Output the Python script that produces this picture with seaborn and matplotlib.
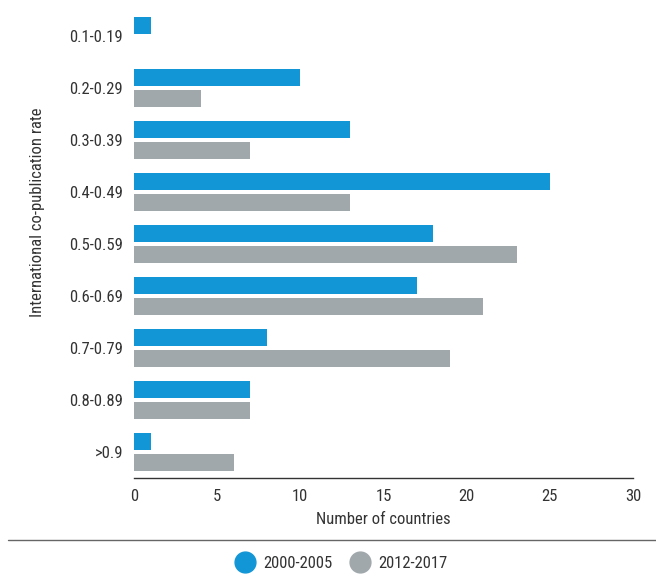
import matplotlib
matplotlib.use("Agg")
import matplotlib.pyplot as plt
from matplotlib import font_manager
from matplotlib.lines import Line2D
import pandas as pd
import seaborn as sns

rates = ["0.1-0.19", "0.2-0.29", "0.3-0.39", "0.4-0.49", "0.5-0.59",
         "0.6-0.69", "0.7-0.79", "0.8-0.89", ">0.9"]
counts_2000_2005 = [1, 10, 13, 25, 18, 17, 8, 7, 1]
counts_2012_2017 = [0, 4, 7, 13, 23, 21, 19, 7, 6]
periods = ["2000-2005", "2012-2017"]
x_ticks = [0, 5, 10, 15, 20, 25, 30]

BLUE = "#1396d6"
GREY = "#a1a8ab"
TEXT = "#333333"

df = pd.DataFrame({
    "rate": rates * 2,
    "count": counts_2000_2005 + counts_2012_2017,
    "period": [periods[0]] * len(rates) + [periods[1]] * len(rates),
})

sns.set_style("white")
installed = {f.name for f in font_manager.fontManager.ttflist}
family = [f for f in ["Liberation Sans Narrow", "Roboto Condensed", "Liberation Sans"] if f in installed]
plt.rcParams["font.family"] = family + ["DejaVu Sans"]

fig = plt.figure(figsize=(6.56, 5.79), dpi=100)
ax = fig.add_axes([134 / 656, 1 - 478 / 579, 499 / 656, 468 / 579])

sns.barplot(data=df, y="rate", x="count", hue="period", orient="h",
            palette=[BLUE, GREY], saturation=1, width=0.8, gap=0.22, order=rates,
            hue_order=periods, ax=ax, legend=False, linewidth=0)

ax.set_xlim(0, 30)
ax.set_ylim(len(rates) - 0.5, -0.5)
ax.set_xticks(x_ticks)
ax.set_xticklabels([str(t) for t in x_ticks])
for side in ["top", "right", "left"]:
    ax.spines[side].set_visible(False)
ax.spines["bottom"].set_color(TEXT)
ax.spines["bottom"].set_linewidth(1)
ax.tick_params(axis="x", direction="inout", length=8, width=1, colors=TEXT,
               labelsize=12, pad=4)
ax.tick_params(axis="y", length=0, labelsize=12, labelcolor=TEXT, pad=8)
ax.set_xlabel("Number of countries", fontsize=12, color=TEXT, labelpad=6)
ax.set_ylabel("")

fig.text(38 / 656, 1 - 212 / 579, "International co-publication rate",
         rotation=90, ha="center", va="center", fontsize=12, color=TEXT)

fig.add_artist(Line2D([8 / 656, 1], [1 - 540 / 579] * 2, color="#666666", lw=1))

handles = [Line2D([], [], marker="o", linestyle="", markersize=15, color=c) for c in [BLUE, GREY]]
fig.legend(handles, periods, loc="center", bbox_to_anchor=(338 / 656, 1 - 563 / 579),
           ncol=2, frameon=False, fontsize=12, handletextpad=0.1, columnspacing=0.6,
           labelcolor=TEXT)

fig.savefig("out.png", dpi=100)
